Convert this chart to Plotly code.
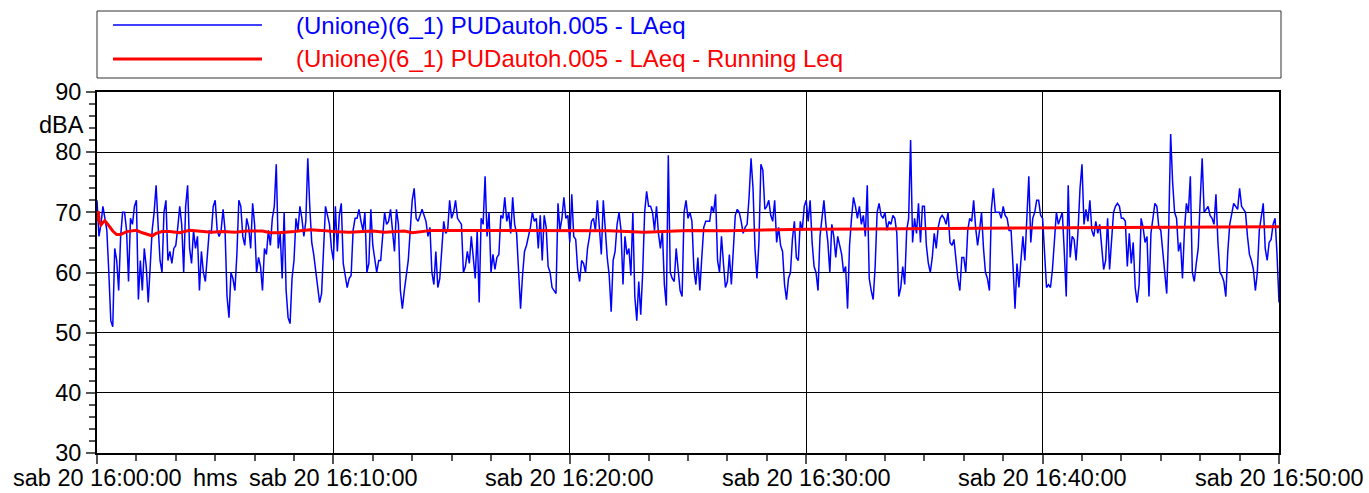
import plotly.graph_objects as go

# LAeq samples, one every 5 s from 16:00:00 to 16:50:00 (dBA)
laeq = [
    72, 66, 68, 71, 69, 67, 60, 52, 51, 64,
    62, 57, 66, 70, 70, 67, 58.5, 69, 68, 71,
    72, 55.5, 62, 57, 64, 61, 55, 62, 67, 70,
    74.5, 68, 62, 60, 70, 72, 62, 63.5, 61.5, 64,
    64.5, 67.5, 71, 68, 60, 71, 74.5, 64, 61.5, 67,
    64, 66, 57, 63.5, 60, 58.5, 63.5, 67, 66.5, 71,
    72, 67, 66, 67, 70.5, 67, 56, 52.5, 60, 59,
    57, 63, 72, 71, 66, 64.5, 69, 67.5, 64, 71.5,
    68, 60, 62.5, 61, 57, 64, 63, 67, 64.5, 69,
    71, 78, 64, 66.5, 59, 70, 57, 52.5, 51.5, 59,
    62, 69, 67, 71, 69, 66, 68.5, 79, 71, 65,
    63, 60, 57, 55, 56.5, 64, 71, 69.5, 68, 64,
    62, 71, 63.5, 69.5, 71.5, 61.5, 59.5, 57.5, 59, 59.5,
    67, 69, 69, 70.5, 68.5, 67, 70, 60, 61.5, 70.5,
    64.5, 62, 60, 62, 62, 66, 70, 68, 68.5, 70.5,
    66.5, 63.5, 70.5, 68, 57, 54, 57, 60, 62, 67,
    72, 74, 69, 68.5, 69.5, 70.5, 69.5, 68.5, 66, 67.5,
    60, 58, 63.5, 57.5, 59, 64, 68.5, 66.5, 67, 72,
    69, 70, 72, 69, 68.5, 68, 60, 61, 63.5, 61.5,
    66, 63, 59, 67, 55, 69, 68, 76, 66, 70,
    60, 63, 60.5, 62.5, 63, 69.5, 69, 72.5, 68.5, 70,
    66.5, 72.5, 68, 66.5, 61, 54, 59.5, 63.5, 64.5, 66,
    67.5, 70, 68.5, 69, 64, 69.5, 62, 69.5, 67.5, 61,
    60, 57.5, 57, 56.5, 71.5, 67, 69, 72.5, 69, 69.5,
    65, 73, 66, 65.5, 60.5, 58.5, 62, 61.5, 60, 64,
    66, 68.5, 69, 67, 72, 68, 63, 72, 67, 62.5,
    59.5, 53.5, 62, 63.5, 68, 70, 67, 58, 66, 63,
    64, 59.5, 70, 56, 52, 58.5, 53, 60, 70, 73.5,
    71, 71, 70, 67, 71, 66.5, 64, 67, 58, 54.5,
    79.5, 60, 59, 58.5, 64, 60, 57, 56, 70, 72,
    69, 70, 68.5, 60.5, 58, 62.5, 57, 62.5, 67.5, 68.5,
    68.5, 68.5, 71, 70, 73, 62, 60, 66, 61.5, 57.5,
    58.5, 63, 58, 65, 69.5, 70.5, 70, 68.5, 66.5, 67.5,
    68, 72.5, 79, 74, 64, 59, 65, 78, 77, 70.5,
    71, 72, 69.5, 68.5, 72, 65, 67.5, 64.5, 63.5, 58,
    55.5, 59, 60, 65.5, 68.5, 62.5, 62, 68.5, 67, 71,
    72, 68.5, 72, 65, 61, 60, 57, 66, 69, 72,
    68, 65, 60, 68, 66, 62.5, 66, 64.5, 63, 60,
    61, 54, 64.5, 69, 72.5, 71, 69, 71, 68, 69.5,
    66, 74.5, 59, 57, 55.5, 61, 70, 71.5, 69.5, 69,
    70, 67, 68.5, 68, 69.5, 69, 66.5, 56, 57.5, 61,
    58, 67, 69, 82, 65, 69, 66.5, 71.5, 65, 71,
    71, 64.5, 61.5, 60, 62.5, 66.5, 64, 67.5, 69, 69.5,
    69, 68, 70, 65, 64.5, 65.5, 61.5, 59, 57, 62.5,
    62.5, 60, 67, 69, 68.5, 72, 67.5, 64.5, 67, 70,
    64, 60, 59, 57, 70.5, 74, 70, 70, 70, 69,
    71, 69.5, 69, 67, 67, 61, 54, 61.5, 57.5, 62,
    66, 62, 70, 76, 65, 69, 70, 72, 72, 69.5,
    69, 62, 57.5, 58, 57.5, 60.5, 64.5, 70, 68, 69,
    70, 63.5, 56, 74.5, 62.5, 66, 65.5, 62, 67, 74,
    78, 68, 70.5, 68.5, 72, 67, 66, 68.5, 66.5, 68,
    64, 60.5, 62, 69, 60.5, 65.5, 70, 71, 71.5, 71,
    69, 69, 68.5, 61, 66.5, 61.5, 65, 57.5, 55, 58,
    69, 67.5, 65, 66, 56, 66.5, 69, 71.5, 71, 67.5,
    67, 63, 60.5, 56.5, 67, 83, 75, 70, 69, 63.5,
    65, 59, 67, 71.5, 70, 76, 60, 58.5, 61.5, 64,
    72, 79, 70, 70.5, 71, 69.5, 69, 68, 73, 65,
    60, 59.5, 58.5, 56, 63.5, 68, 70, 71.5, 71, 70.5,
    74, 71, 70.5, 70, 66, 63, 62, 60.5, 57, 60,
    67, 69.5, 71.5, 64, 62, 65, 65.5, 68, 69, 63,
    55,
]
laeq_step_s = 5

# Running Leq, read at irregular times (seconds after 16:00:00)
running_t = [0, 3, 6, 10, 15, 20, 30, 40, 50, 60, 75, 90, 100, 115, 130, 140,
             150, 165, 185, 210, 235, 260, 290, 320, 350, 380, 420, 440, 460,
             500, 540, 570, 600, 640, 700, 730, 780, 800, 850, 900, 1000, 1100,
             1200, 1300, 1390, 1500, 1600, 1680, 1800, 1950, 2100, 2250, 2400,
             2550, 2700, 2850, 3000]
running_leq = [68.5, 70.2, 68.5, 67.9, 68.3, 68.6, 67.8, 66.9, 66.3, 66.3, 66.8,
               66.9, 67.0, 66.6, 66.3, 66.1, 66.5, 66.8, 66.8, 66.6, 67.0, 66.9,
               66.7, 66.8, 66.7, 66.9, 66.9, 66.6, 66.6, 66.8, 67.1, 67.0, 66.8,
               66.7, 66.9, 66.7, 66.9, 66.6, 67.0, 67.0, 67.0, 67.0, 67.0, 66.95,
               66.7, 67.0, 66.95, 67.1, 67.2, 67.25, 67.3, 67.3, 67.35, 67.4,
               67.45, 67.55, 67.6]

tick_seconds = [0, 600, 1200, 1800, 2400, 3000]
tick_labels = ["sab 20 16:00:00", "sab 20 16:10:00", "sab 20 16:20:00",
               "sab 20 16:30:00", "sab 20 16:40:00", "sab 20 16:50:00"]

series_names = ["(Unione)(6_1) PUDautoh.005 - LAeq",
                "(Unione)(6_1) PUDautoh.005 - LAeq - Running Leq"]
series_colors = ["#0000FF", "#FF0000"]

FONT = "Liberation Sans, Arial, sans-serif"
AXIS_FONT_SIZE = 23.5
LEGEND_FONT_SIZE = 24
W, H = 1369, 493
PL, PR, PT, PB = 97, 1279, 92, 453   # plot area in pixels


def px_x(px):
    return (px - PL) / (PR - PL)


def px_y(py):
    return (PB - py) / (PB - PT)


t_laeq = [i * laeq_step_s for i in range(len(laeq))]

fig = go.Figure()
fig.add_trace(go.Scatter(x=t_laeq, y=laeq, mode="lines", name=series_names[0],
                         line=dict(color=series_colors[0], width=1.5),
                         showlegend=False))
fig.add_trace(go.Scatter(x=running_t, y=running_leq, mode="lines",
                         name=series_names[1],
                         line=dict(color=series_colors[1], width=3),
                         showlegend=False))

# legend box drawn by hand
shapes = [dict(type="rect", xref="paper", yref="paper",
               x0=px_x(97), x1=px_x(1281), y0=px_y(78), y1=px_y(11),
               line=dict(color="#333333", width=1), fillcolor="white")]
annotations = []
for name, col, yy, lw in zip(series_names, series_colors, [25, 59], [1.3, 3]):
    shapes.append(dict(type="line", xref="paper", yref="paper",
                       x0=px_x(113), x1=px_x(262), y0=px_y(yy), y1=px_y(yy),
                       line=dict(color=col, width=lw)))
    annotations.append(dict(text=name, xref="paper", yref="paper",
                            x=px_x(294), y=px_y(yy), xanchor="left",
                            yanchor="middle", showarrow=False,
                            font=dict(family=FONT, size=LEGEND_FONT_SIZE,
                                      color=col)))

# time labels along the bottom edge, anchored to the tick positions
for sec, lab in zip(tick_seconds, tick_labels):
    annotations.append(dict(text=lab, xref="x", yref="paper", x=sec,
                            y=px_y(492), xanchor="center", yanchor="bottom",
                            showarrow=False, borderpad=0,
                            font=dict(family=FONT, size=AXIS_FONT_SIZE,
                                      color="black")))

annotations.append(dict(text="dBA", xref="paper", yref="paper",
                        x=px_x(86), y=px_y(125), xanchor="right",
                        yanchor="middle", showarrow=False,
                        font=dict(family=FONT, size=AXIS_FONT_SIZE,
                                  color="black")))
annotations.append(dict(text="hms", xref="paper", yref="paper",
                        x=px_x(215), y=px_y(492), xanchor="center",
                        yanchor="bottom", showarrow=False, borderpad=0,
                        font=dict(family=FONT, size=AXIS_FONT_SIZE,
                                  color="black")))

axis_common = dict(showgrid=True, gridcolor="black", gridwidth=1.2,
                   zeroline=False, showline=True, linecolor="black",
                   linewidth=2, mirror=True, ticks="outside", ticklen=9,
                   tickwidth=1.5, tickcolor="#555555", automargin=False,
                   tickfont=dict(family=FONT, size=AXIS_FONT_SIZE,
                                 color="black"))

fig.update_layout(
    width=W, height=H,
    margin=dict(l=PL, r=W - PR, t=PT, b=H - PB, pad=0),
    paper_bgcolor="white", plot_bgcolor="white",
    font=dict(family=FONT, size=AXIS_FONT_SIZE, color="black"),
    shapes=shapes, annotations=annotations,
    xaxis=dict(range=[0, 3000], tickmode="array", tickvals=tick_seconds,
               showticklabels=False,
               minor=dict(tickmode="linear", tick0=0, dtick=100, ticks="outside",
                          ticklen=6, tickwidth=1.5, tickcolor="#555555",
                          showgrid=False),
               **axis_common),
    yaxis=dict(range=[30, 90], tickmode="linear", tick0=30, dtick=10,
               minor=dict(tickmode="linear", tick0=30, dtick=2, ticks="outside",
                          ticklen=6, tickwidth=1.5, tickcolor="#555555",
                          showgrid=False),
               **axis_common),
)

fig.write_html("out.html")
